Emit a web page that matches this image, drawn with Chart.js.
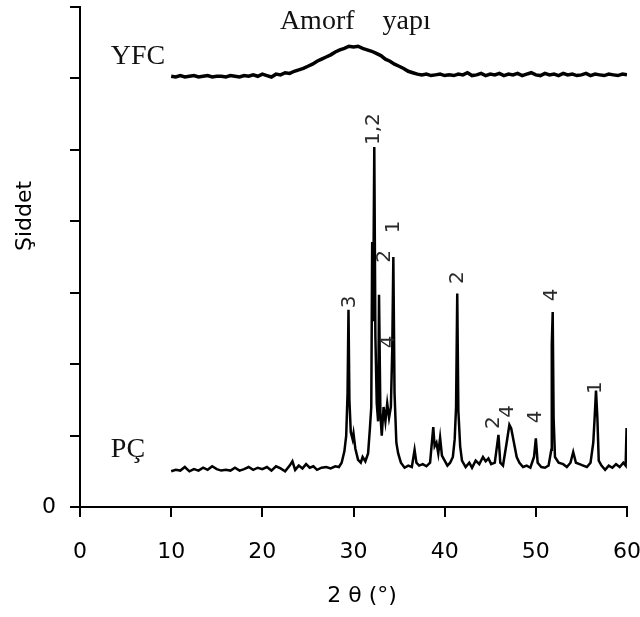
<!DOCTYPE html>
<html>
<head>
<meta charset="utf-8">
<script src="https://cdn.jsdelivr.net/npm/chart.js@4/dist/chart.umd.min.js"></script>
<style>
  html, body { margin: 0; padding: 0; background: #fff; }
  #wrap { width: 640px; height: 617px; }
</style>
</head>
<body>
<div id="wrap"><canvas id="xrd"></canvas></div>
<script>
// 2θ / şiddet değerleri
const pcTheta = [10.0,10.5,11.0,11.5,12.0,12.5,13.0,13.5,14.0,14.5,15.0,15.5,16.0,16.5,17.0,17.5,18.0,18.5,19.0,19.5,
  20.0,20.5,21.0,21.5,22.0,22.5,23.0,23.3,23.6,24.0,24.4,24.8,25.2,25.6,26.0,26.5,27.0,27.5,28.0,28.4,28.7,
  29.0,29.2,29.35,29.45,29.55,29.7,29.9,30.0,30.2,30.5,30.8,31.0,31.3,31.6,31.8,31.95,32.05,32.15,32.28,32.4,
  32.55,32.7,32.8,32.95,33.1,33.3,33.5,33.7,33.9,34.1,34.25,34.37,34.5,34.7,34.9,35.2,35.6,36.0,36.4,36.7,
  36.9,37.2,37.6,38.0,38.4,38.75,38.9,39.1,39.3,39.5,39.7,40.0,40.3,40.6,40.9,41.1,41.25,41.38,41.5,41.7,
  41.9,42.3,42.7,43.0,43.4,43.8,44.2,44.5,44.8,45.1,45.5,45.9,46.1,46.4,46.8,47.1,47.3,47.6,47.9,48.2,48.6,
  49.0,49.4,49.8,50.0,50.2,50.6,51.0,51.4,51.7,51.75,51.85,51.95,52.1,52.5,53.0,53.4,53.8,54.1,54.4,54.8,
  55.2,55.6,56.0,56.3,56.45,56.6,56.75,56.9,57.2,57.6,58.0,58.4,58.8,59.2,59.6,59.85,59.95,60.0];
const pcValues = [0.50,0.52,0.51,0.56,0.50,0.53,0.51,0.55,0.52,0.57,0.53,0.51,0.52,0.51,0.55,0.51,0.53,0.56,0.52,0.55,
  0.53,0.56,0.51,0.57,0.54,0.50,0.58,0.64,0.52,0.58,0.54,0.60,0.55,0.57,0.52,0.55,0.56,0.54,0.57,0.56,0.62,
  0.78,1.00,1.60,2.76,1.50,1.05,0.95,1.03,0.82,0.66,0.62,0.70,0.64,0.75,1.10,1.40,3.71,2.60,5.04,2.40,
  1.45,1.20,2.97,1.30,1.00,1.40,1.20,1.45,1.25,1.40,2.20,3.50,1.60,0.90,0.75,0.62,0.55,0.58,0.56,0.80,
  0.62,0.58,0.60,0.57,0.62,1.12,0.85,0.90,0.75,0.97,0.72,0.65,0.58,0.62,0.70,0.95,1.40,2.99,1.35,0.85,
  0.65,0.56,0.62,0.55,0.65,0.60,0.70,0.64,0.68,0.60,0.62,1.01,0.62,0.58,0.90,1.15,1.10,0.90,0.70,0.62,0.56,
  0.58,0.55,0.70,0.96,0.62,0.56,0.55,0.58,0.80,2.27,2.73,1.25,0.70,0.62,0.60,0.56,0.62,0.77,0.62,0.60,
  0.58,0.56,0.62,0.90,1.25,1.63,1.25,0.65,0.58,0.52,0.58,0.55,0.60,0.56,0.62,0.58,1.09,1.09];

const yfcTheta = [10,10.5,11,11.5,12,12.5,13,13.5,14,14.5,15,15.5,16,16.5,17,17.5,18,18.5,19,19.5,
  20,20.5,21,21.5,22,22.5,23,23.5,24,24.5,25,25.5,26,26.5,27,27.5,28,28.5,29,29.5,
  30,30.5,31,31.5,32,32.5,33,33.5,34,34.5,35,35.5,36,36.5,37,37.5,38,38.5,39,39.5,
  40,40.5,41,41.5,42,42.5,43,43.5,44,44.5,45,45.5,46,46.5,47,47.5,48,48.5,49,49.5,
  50,50.5,51,51.5,52,52.5,53,53.5,54,54.5,55,55.5,56,56.5,57,57.5,58,58.5,59,59.5,60];
const yfcValues = [6.03,6.02,6.04,6.02,6.03,6.04,6.02,6.03,6.04,6.02,6.03,6.03,6.02,6.04,6.03,6.02,6.04,6.03,6.05,6.03,
  6.06,6.04,6.02,6.06,6.05,6.08,6.07,6.10,6.12,6.14,6.17,6.20,6.24,6.27,6.30,6.33,6.37,6.40,6.42,6.45,
  6.44,6.45,6.42,6.40,6.38,6.35,6.32,6.27,6.24,6.20,6.17,6.14,6.10,6.08,6.06,6.05,6.06,6.04,6.05,6.06,
  6.04,6.05,6.04,6.06,6.05,6.08,6.04,6.05,6.07,6.04,6.06,6.05,6.07,6.04,6.06,6.05,6.07,6.04,6.06,6.08,
  6.05,6.04,6.07,6.05,6.06,6.04,6.07,6.05,6.06,6.04,6.05,6.07,6.04,6.06,6.05,6.04,6.06,6.05,6.04,6.06,6.05];

const xTicks = [0, 10, 20, 30, 40, 50, 60];

// pik etiketleri: [metin, 2θ, şiddet]
const peakLabels = [
  ['3', 29.6, 2.87], ['1,2', 32.25, 5.29], ['1', 34.45, 3.92], ['2', 33.45, 3.51], ['4', 33.9, 2.31],
  ['2', 41.46, 3.21], ['2', 45.41, 1.18], ['4', 46.95, 1.34], ['4', 50.02, 1.26], ['4', 51.77, 2.97],
  ['1', 56.6, 1.67]
];
// örnek adları ve not
const sampleLabels = [['YFC', 6.36, 6.30], ['PÇ', 5.26, 0.81], ['Amorf    yapı', 30.2, 6.79]];

const toPoints = (xs, ys) => xs.map((x, i) => ({ x: x, y: ys[i] }));

const sans = '"DejaVu Sans", sans-serif';
const serif = '"Liberation Serif", "DejaVu Serif", serif';

// etiketleri ve eksen başlıklarını çizen eklenti
const textPlugin = {
  id: 'texts',
  afterDatasetsDraw(chart) {
    const ctx = chart.ctx, xs = chart.scales.x, ys = chart.scales.y;
    ctx.save();
    ctx.fillStyle = '#2a2a2a';
    ctx.textAlign = 'center';
    ctx.textBaseline = 'middle';
    ctx.font = '20px ' + sans;
    peakLabels.forEach(p => {
      ctx.save();
      ctx.translate(xs.getPixelForValue(p[1]), ys.getPixelForValue(p[2]));
      ctx.rotate(-Math.PI / 2);
      ctx.fillText(p[0], 0, 0);
      ctx.restore();
    });
    ctx.fillStyle = '#111';
    ctx.font = '28px ' + serif;
    sampleLabels.forEach(s => {
      ctx.fillText(s[0], xs.getPixelForValue(s[1]), ys.getPixelForValue(s[2]));
    });
    // eksen başlıkları
    ctx.fillStyle = '#000';
    ctx.font = '22px ' + sans;
    ctx.fillText('2 θ (°)', 362, 596);
    ctx.save();
    ctx.translate(25, 216);
    ctx.rotate(-Math.PI / 2);
    ctx.fillText('Şiddet', 0, 0);
    ctx.restore();
    ctx.restore();
  }
};

new Chart(document.getElementById('xrd'), {
  type: 'line',
  data: {
    datasets: [
      { label: 'YFC', data: toPoints(yfcTheta, yfcValues), borderColor: '#000', borderWidth: 3.5, pointRadius: 0, tension: 0 },
      { label: 'PÇ', data: toPoints(pcTheta, pcValues), borderColor: '#000', borderWidth: 2.5, pointRadius: 0, tension: 0 }
    ]
  },
  options: {
    responsive: true,
    maintainAspectRatio: false,
    animation: false,
    layout: { padding: { top: 7, right: 13, left: 0, bottom: 0 } },
    plugins: { legend: { display: false }, tooltip: { enabled: false } },
    scales: {
      x: {
        type: 'linear', min: 0, max: 60,
        afterBuildTicks: s => { s.ticks = xTicks.map(v => ({ value: v })); },
        afterFit: s => { s.height = 110; s.paddingLeft = 0; s.paddingRight = 0; },
        border: { display: true, color: '#000', width: 2 },
        grid: { drawOnChartArea: false, drawTicks: true, tickLength: 10, color: '#000', lineWidth: 2 },
        ticks: { color: '#000', padding: 22, font: { family: sans, size: 22 } }
      },
      y: {
        min: 0, max: 7,
        afterFit: s => { s.width = 80; s.paddingTop = 0; s.paddingBottom = 0; },
        border: { display: true, color: '#000', width: 2 },
        grid: { drawOnChartArea: false, drawTicks: true, tickLength: 10, color: '#000', lineWidth: 2 },
        ticks: { stepSize: 1, color: '#000', padding: 14, font: { family: sans, size: 22 },
          callback: v => v === 0 ? '0' : '' }
      }
    }
  },
  plugins: [textPlugin]
});
</script>
</body>
</html>
